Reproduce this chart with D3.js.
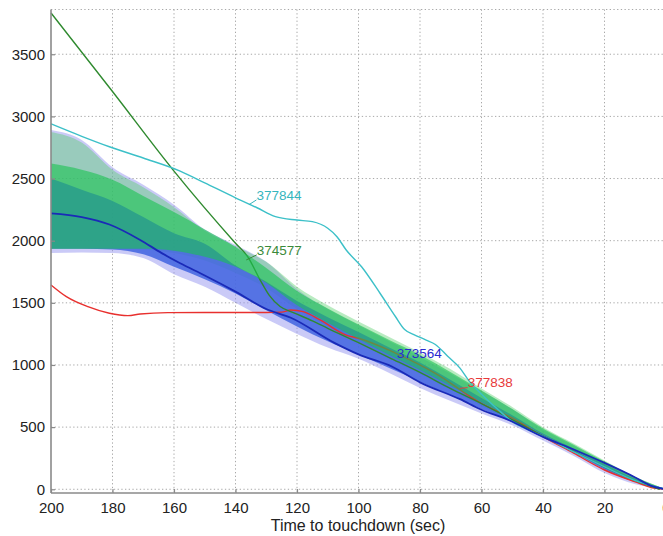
<!DOCTYPE html>
<html><head><meta charset="utf-8">
<script src="https://cdn.jsdelivr.net/npm/d3@7"></script>
<style>
html,body{margin:0;padding:0;background:#fff;overflow:hidden;}
text{font-family:"Liberation Sans",Arial,Helvetica,sans-serif;}
</style></head>
<body>
<svg id="chart" width="663" height="536"></svg>
<script>
// ---- data ----
const bandT = [200,190,180,170,160,150,140,130,120,110,100,90,80,70,60,50,40,30,20,10,0];
const blueOuterLow  = [1900,1905,1900,1860,1730,1630,1500,1370,1250,1140,1050,935,815,710,610,515,392,268,130,40,0];
const blueOuterHigh = [2890,2810,2590,2450,2290,2090,1965,1830,1610,1450,1320,1190,1065,930,790,645,478,348,212,92,0];
const greenOuterLow  = [1935,1935,1935,1930,1900,1840,1740,1620,1450,1310,1180,1050,930,800,670,545,420,300,170,65,0];
const greenOuterHigh = [2875,2790,2570,2430,2270,2080,1955,1830,1630,1480,1350,1225,1100,965,810,662,500,368,232,98,0];
const blueInnerLow  = [1935,1935,1930,1890,1790,1690,1575,1440,1310,1190,1085,975,865,755,645,540,418,293,158,58,0];
const blueInnerHigh = [2500,2410,2320,2190,2060,1975,1800,1670,1515,1385,1265,1140,1020,880,735,595,448,328,203,84,0];
const greenInnerLow  = [1935,1935,1935,1935,1920,1870,1790,1660,1480,1340,1210,1080,960,830,700,570,440,315,185,75,0];
const greenInnerHigh = [2620,2570,2490,2360,2230,2090,1950,1780,1595,1455,1325,1200,1080,942,795,645,488,358,223,99,0];

const blueT = [200,190,181,171,164,158,150,140,130,122,108,100,89,80,67,60,51,40,30,20,10,5,0];
const blueV = [2220,2190,2130,2006,1900,1818,1720,1590,1450,1380,1180,1085,986,860,725,640,555,421,320,212,95,30,0];
const cyanT = [200,190,181,170,158,150,140,133,127,120,115,110,107,104,99,93,88,85,82,78,75,71,67,64,60,55,50,45,40,30,20,10,0];
const cyanV = [2940,2840,2756,2665,2560,2465,2345,2265,2193,2166,2153,2100,2032,1925,1790,1577,1390,1285,1245,1200,1165,1070,975,870,765,650,544,480,425,300,180,70,0];
const greenT = [200,180,160,140,136,132,129,125.5,121,115,110,100,90,80,70,60,50,40,30,20,10,2];
const greenV = [3832,3200,2560,1980,1870,1685,1560,1470,1420,1355,1295,1180,1060,940,810,690,560,430,305,178,70,0];
const redT = [200,195,188,181,175,171,162,150,140,130,125,122,118,112.5,104,100,88,75,60,50,40,30,20,10,4,0];
const redV = [1644,1550,1469,1416,1397,1410,1421,1422,1422,1422,1425,1442,1429,1362,1240,1215,1096,933,690,574,423,290,155,60,10,0];

const xTicks = [200,180,160,140,120,100,80,60,40,20,0];
const yTicks = [0,500,1000,1500,2000,2500,3000,3500];
const xLabel = "Time to touchdown (sec)";

const labelNames = ["377844","374577","373564","377838"];
const labelHasLeader = [true,true,false,true];
const labelAnchorT = [135.6,136.5,88.5,67];
const labelAnchorV = [2290,1845,985,812];
const labelTextT = [133.2,133.1,87.6,64.5];
const labelTextV = [2368,1926,1097,858];

// ---- chart ----
const svg = d3.select("#chart");
const x = d3.scaleLinear().domain([200,0]).range([51,666]);
const y = d3.scaleLinear().domain([-30,3860]).range([493,9.5]);

const gridCol = "#a8a8a8";
svg.append("g").selectAll("line").data(xTicks.filter(d=>d!==200)).join("line")
  .attr("x1",d=>x(d)).attr("x2",d=>x(d)).attr("y1",y(3860)).attr("y2",y(-30))
  .attr("stroke",gridCol).attr("stroke-width",1).attr("stroke-dasharray","1.3,2.4");
svg.append("g").selectAll("line").data(yTicks.concat([3860])).join("line")
  .attr("x1",x(200)).attr("x2",x(0)).attr("y1",d=>y(d)).attr("y2",d=>y(d))
  .attr("stroke",gridCol).attr("stroke-width",1).attr("stroke-dasharray","1.3,2.4");

const lineGen = d3.line().x(d=>x(d[0])).y(d=>y(d[1])).curve(d3.curveMonotoneX);
function series(T,V){ return T.map((t,i)=>[t,V[i]]); }
const area = d3.area().x(d=>x(d.t)).y0(d=>y(d.lo)).y1(d=>y(d.hi)).curve(d3.curveMonotoneX);
function band(lo,hi){ return bandT.map((t,i)=>({t:t,lo:lo[i],hi:hi[i]})); }

svg.append("path").datum(band(blueOuterLow,blueOuterHigh)).attr("d",area)
  .attr("fill","rgb(150,150,240)").attr("fill-opacity",0.5);
svg.append("path").datum(band(greenOuterLow,greenOuterHigh)).attr("d",area)
  .attr("fill","rgb(80,205,100)").attr("fill-opacity",0.4);
svg.append("path").datum(band(blueInnerLow,blueInnerHigh)).attr("d",area)
  .attr("fill","rgb(65,100,225)").attr("fill-opacity",0.85);

// red and green lines sit between the blue and the green inner band
svg.append("path").datum(series(redT,redV)).attr("d",lineGen)
  .attr("fill","none").attr("stroke","#e8302e").attr("stroke-width",1.4);
svg.append("path").datum(series(greenT,greenV)).attr("d",lineGen)
  .attr("fill","none").attr("stroke","#2f8a2f").attr("stroke-width",1.4);

svg.append("path").datum(band(greenInnerLow,greenInnerHigh)).attr("d",area)
  .attr("fill","rgb(25,195,80)").attr("fill-opacity",0.6);

svg.append("path").datum(series(cyanT,cyanV)).attr("d",lineGen)
  .attr("fill","none").attr("stroke","#3cc0c8").attr("stroke-width",1.4);
svg.append("path").datum(series(blueT,blueV)).attr("d",lineGen)
  .attr("fill","none").attr("stroke","#1a2ab8").attr("stroke-width",1.8);

// labels
const labelCols = ["#35b5bd","#3a8a3a","#2a2ad0","#e83a3a"];
labelNames.forEach((n,i)=>{
  if(labelHasLeader[i]){
    svg.append("line").attr("x1",x(labelAnchorT[i])).attr("y1",y(labelAnchorV[i]))
      .attr("x2",x(labelTextT[i])).attr("y2",y(labelTextV[i])+5)
      .attr("stroke",labelCols[i]).attr("stroke-width",1);
  }
  svg.append("text").attr("x",x(labelTextT[i])).attr("y",y(labelTextV[i]))
    .attr("dy","0.35em").attr("font-size","13.5px").attr("fill",labelCols[i]).text(n);
});

// axes
const axCol = "#8a8a8a";
svg.append("line").attr("x1",x(200)).attr("x2",x(200)).attr("y1",y(3860)).attr("y2",y(-30))
  .attr("stroke",axCol).attr("stroke-width",1.6);
svg.append("line").attr("x1",x(200)).attr("x2",x(0)).attr("y1",y(-30)).attr("y2",y(-30))
  .attr("stroke",axCol).attr("stroke-width",1.6);

const xAxis = svg.append("g").attr("transform",`translate(0,${y(-30)})`)
  .call(d3.axisBottom(x).tickValues(xTicks).tickSizeInner(-4).tickSizeOuter(0).tickPadding(9).tickFormat(d3.format("d")));
const yAxis = svg.append("g").attr("transform",`translate(${x(200)},0)`)
  .call(d3.axisLeft(y).tickValues(yTicks).tickSizeInner(-4).tickSizeOuter(0).tickPadding(6).tickFormat(d3.format("d")));
[xAxis,yAxis].forEach(g=>{
  g.select(".domain").remove();
  g.selectAll(".tick line").attr("stroke",axCol).attr("stroke-width",1.2);
  g.selectAll(".tick text").attr("font-size","15px").attr("fill","#222")
    .attr("font-family","'Liberation Sans',Arial,sans-serif");
});

svg.append("text").attr("x",358).attr("y",531).attr("text-anchor","middle")
  .attr("font-size","16px").attr("fill","#222").text(xLabel);
</script>
</body></html>
